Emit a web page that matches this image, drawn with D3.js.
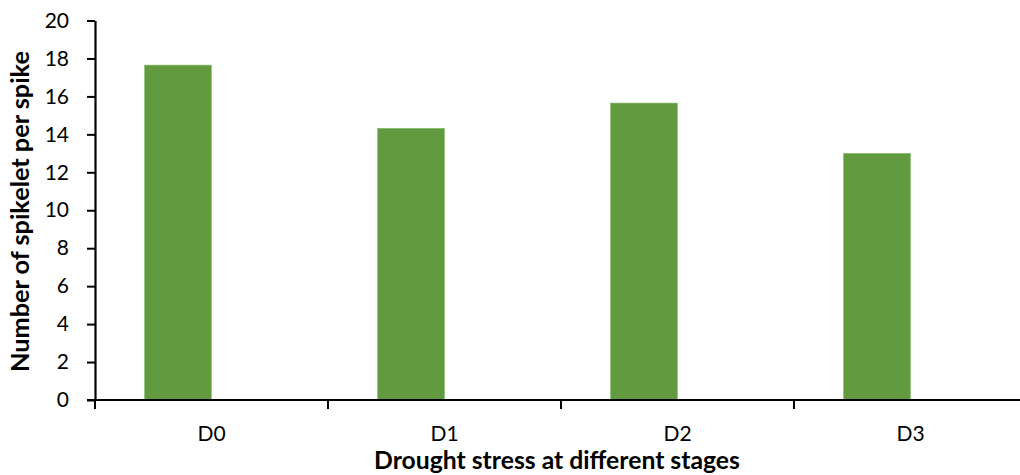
<!DOCTYPE html>
<html>
<head>
<meta charset="utf-8">
<script src="https://cdn.jsdelivr.net/npm/d3@7"></script>
<style>
  html, body { margin: 0; padding: 0; background: #fff; }
  svg { display: block; }
  text { font-family: Lato, "Open Sans", sans-serif; fill: #000; }
</style>
</head>
<body>
<svg id="chart" width="1020" height="475"></svg>
<script>
// Spikelets per spike under drought stress applied at different growth stages
const categories = ["D0", "D1", "D2", "D3"];
const spikelets = [17.65, 14.32, 15.65, 13.0];
const yTicks = [0, 2, 4, 6, 8, 10, 12, 14, 16, 18, 20];

const svg = d3.select("#chart");
const plotLeft = 95, plotRight = 1027, plotTop = 20.5, plotBottom = 400;
const font = "Lato, 'Open Sans', sans-serif";

const x = d3.scaleBand().domain(categories).range([plotLeft, plotRight]);
const y = d3.scaleLinear().domain([0, 20]).range([plotBottom, plotTop]);

// Each category slot holds a bar on its left half, clustered Excel-style
const gapFrac = 0.425;
const barW = x.bandwidth() * (1 - gapFrac) / 2;
const barOff = x.bandwidth() * gapFrac / 2;

svg.append("g")
  .selectAll("rect")
  .data(categories)
  .join("rect")
  .attr("x", d => x(d) + barOff)
  .attr("y", (d, i) => y(spikelets[i]))
  .attr("width", barW)
  .attr("height", (d, i) => y(0) - y(spikelets[i]))
  .attr("fill", "#629a3f")
  .attr("stroke", "#8cbf6e")
  .attr("stroke-width", 0.6);

// Y axis
const yAxis = svg.append("g")
  .attr("transform", `translate(${plotLeft},0)`)
  .call(d3.axisLeft(y).tickValues(yTicks).tickSize(8).tickSizeOuter(0).tickPadding(18));
yAxis.select(".domain").attr("stroke", "#000").attr("stroke-width", 2.2);
yAxis.selectAll(".tick line").attr("stroke", "#000").attr("stroke-width", 2);
yAxis.selectAll(".tick text").attr("font-size", 21).attr("font-family", font);

// X axis with boundary ticks between categories
const xAxis = svg.append("g")
  .attr("transform", `translate(0,${plotBottom})`)
  .call(d3.axisBottom(x).tickSize(0).tickSizeOuter(0));
xAxis.select(".domain").attr("stroke", "#000").attr("stroke-width", 2.2)
  .attr("d", `M${plotLeft - 8},0H${plotRight}`);
xAxis.selectAll(".tick text")
  .attr("font-size", 21).attr("font-family", font)
  .attr("y", 40.5).attr("dy", 0);
xAxis.append("g")
  .selectAll("line")
  .data(categories)
  .join("line")
  .attr("x1", d => x(d)).attr("x2", d => x(d))
  .attr("y1", 0).attr("y2", 9)
  .attr("stroke", "#000").attr("stroke-width", 2);

// Scale a title's font size so it spans the given width
function fitWidth(sel, target, base) {
  sel.attr("font-size", base);
  const len = sel.node().getComputedTextLength();
  sel.attr("font-size", base * target / len);
}

// Axis titles
const xTitle = svg.append("text")
  .attr("x", 557)
  .attr("y", 469)
  .attr("text-anchor", "middle")
  .attr("font-weight", "bold")
  .attr("font-family", font)
  .text("Drought stress at different stages");
fitWidth(xTitle, 366, 22);

const yTitle = svg.append("text")
  .attr("transform", `translate(29,211.5) rotate(-90)`)
  .attr("text-anchor", "middle")
  .attr("font-weight", "bold")
  .attr("font-family", font)
  .text("Number of spikelet per spike");
fitWidth(yTitle, 321, 21);
</script>
</body>
</html>
